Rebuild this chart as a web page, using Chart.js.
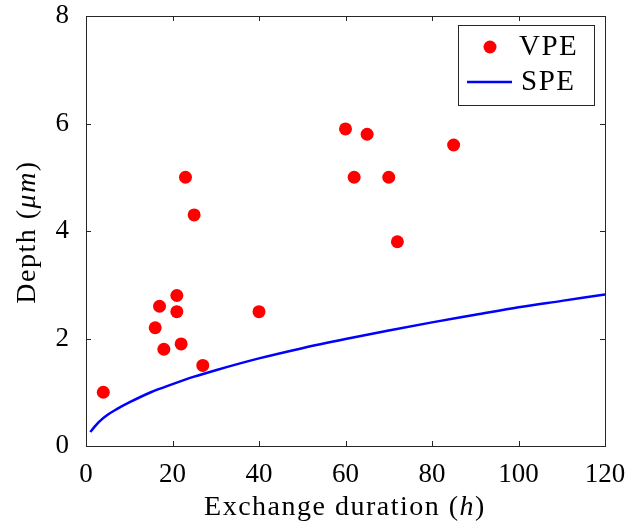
<!DOCTYPE html>
<html>
<head>
<meta charset="utf-8">
<script src="https://cdn.jsdelivr.net/npm/chart.js@4"></script>
<style>
  html, body { margin: 0; padding: 0; background: #fff; }
  #wrap { width: 628px; height: 525px; }
</style>
</head>
<body>
<div id="wrap"><canvas id="chart" width="628" height="525"></canvas></div>
<script>
// VPE measurements (scatter)
const vpeHours = [4, 16, 17, 18, 21, 21, 22, 23, 25, 27, 40, 60, 62, 65, 70, 72, 85];
const vpeDepth = [1.0, 2.2, 2.6, 1.8, 2.8, 2.5, 1.9, 5.0, 4.3, 1.5, 2.5, 5.9, 5.0, 5.8, 5.0, 3.8, 5.6];

// SPE curve
const speHours = [1, 2, 3, 5, 7, 10, 15, 20, 25, 30, 40, 50, 60, 70, 80, 90, 100, 110, 120];
const speDepth = [0.26, 0.36, 0.45, 0.58, 0.68, 0.81, 1.0, 1.15, 1.29, 1.41, 1.63, 1.82, 1.99, 2.15, 2.30, 2.44, 2.58, 2.70, 2.82];

const xTicks = [0, 20, 40, 60, 80, 100, 120];
const yTicks = [0, 2, 4, 6, 8];

const FONT = '"Liberation Serif", "DejaVu Serif", serif';
const FRAME = '#262626';

// cadre, petites graduations vers l'intérieur, titres et légende
const decor = {
    id: 'decor',
    afterDraw(chart) {
        const ctx = chart.ctx;
        const a = chart.chartArea;
        const xs = chart.scales.x, ys = chart.scales.y;
        const tl = 5;
        ctx.save();
        ctx.strokeStyle = FRAME;
        ctx.lineWidth = 1;
        ctx.strokeRect(Math.round(a.left) + 0.5, Math.round(a.top) + 0.5,
            Math.round(a.right - a.left), Math.round(a.bottom - a.top));
        ctx.beginPath();
        xTicks.forEach(v => {
            const px = Math.round(xs.getPixelForValue(v)) + 0.5;
            ctx.moveTo(px, a.bottom); ctx.lineTo(px, a.bottom - tl);
            ctx.moveTo(px, a.top); ctx.lineTo(px, a.top + tl);
        });
        yTicks.forEach(v => {
            const py = Math.round(ys.getPixelForValue(v)) + 0.5;
            ctx.moveTo(a.left, py); ctx.lineTo(a.left + tl, py);
            ctx.moveTo(a.right, py); ctx.lineTo(a.right - tl, py);
        });
        ctx.stroke();

        // titres des axes (avec parties en italique)
        ctx.fillStyle = '#000';
        ctx.textBaseline = 'middle';
        ctx.letterSpacing = '1.5px';
        const drawParts = (parts, cx, cy) => {
            let total = 0;
            parts.forEach(p => { ctx.font = p[1] + ' 28px ' + FONT; total += ctx.measureText(p[0]).width; });
            let x = cx - total / 2;
            ctx.textAlign = 'left';
            parts.forEach(p => {
                ctx.font = p[1] + ' 28px ' + FONT;
                ctx.fillText(p[0], x, cy);
                x += ctx.measureText(p[0]).width;
            });
        };
        drawParts([['Exchange duration (', 'normal'], ['h', 'italic'], [')', 'normal']], 345, 508);
        ctx.save();
        ctx.translate(28, 232);
        ctx.rotate(-Math.PI / 2);
        drawParts([['Depth (', 'normal'], ['μm', 'italic'], [')', 'normal']], 0, 0);
        ctx.restore();

        // légende
        const lx = 458, ly = 25, lw = 136, lh = 80;
        ctx.fillStyle = '#fff';
        ctx.fillRect(lx, ly, lw, lh);
        ctx.strokeStyle = FRAME;
        ctx.strokeRect(lx + 0.5, ly + 0.5, lw, lh);
        ctx.fillStyle = '#ff0000';
        ctx.beginPath();
        ctx.arc(490, 47, 6.5, 0, Math.PI * 2);
        ctx.fill();
        ctx.strokeStyle = '#0000ff';
        ctx.lineWidth = 2.5;
        ctx.beginPath();
        ctx.moveTo(467, 82); ctx.lineTo(512, 82);
        ctx.stroke();
        ctx.fillStyle = '#000';
        ctx.font = '29px ' + FONT;
        ctx.textAlign = 'left';
        ctx.fillText('VPE', 519, 47);
        ctx.fillText('SPE', 521, 82);
        ctx.restore();
    }
};

new Chart(document.getElementById('chart').getContext('2d'), {
    type: 'scatter',
    data: {
        datasets: [
            {
                label: 'SPE',
                type: 'line',
                data: speHours.map((h, i) => ({ x: h, y: speDepth[i] })),
                borderColor: '#0000ff',
                borderWidth: 2.5,
                pointRadius: 0,
                fill: false,
                cubicInterpolationMode: 'monotone',
                order: 2
            },
            {
                label: 'VPE',
                data: vpeHours.map((h, i) => ({ x: h, y: vpeDepth[i] })),
                backgroundColor: '#ff0000',
                borderWidth: 0,
                pointRadius: 6.5,
                order: 1
            }
        ]
    },
    options: {
        responsive: false,
        animation: false,
        layout: { padding: { top: 16, right: 23, left: 0, bottom: 0 } },
        plugins: { legend: { display: false }, tooltip: { enabled: false } },
        scales: {
            x: {
                type: 'linear',
                min: 0, max: 120,
                afterBuildTicks: s => { s.ticks = xTicks.map(v => ({ value: v })); },
                afterFit: s => { s.height = 79; s.paddingLeft = 0; s.paddingRight = 0; },
                grid: { display: false },
                border: { display: false },
                ticks: { color: '#000', padding: 5, font: { family: FONT, size: 27 } }
            },
            y: {
                type: 'linear',
                min: 0, max: 8,
                afterBuildTicks: s => { s.ticks = yTicks.map(v => ({ value: v })); },
                afterFit: s => { s.width = 86; s.paddingTop = 0; s.paddingBottom = 0; },
                grid: { display: false },
                border: { display: false },
                ticks: { color: '#000', padding: 9, font: { family: FONT, size: 27 } }
            }
        }
    },
    plugins: [decor]
});
</script>
</body>
</html>
